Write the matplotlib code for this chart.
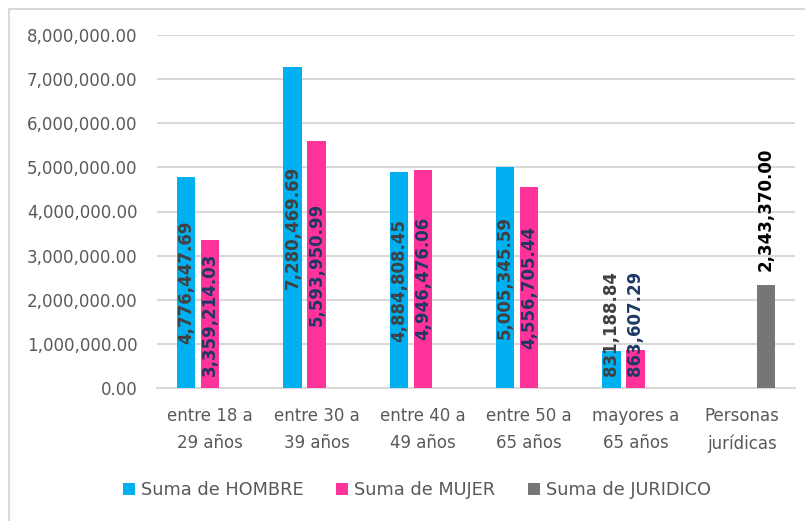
import matplotlib
matplotlib.use("Agg")
import matplotlib.pyplot as plt
import numpy as np
from matplotlib.patches import Rectangle
from matplotlib.ticker import FuncFormatter, MultipleLocator

plt.rcParams["font.family"] = ["DejaVu Sans"]

categories = ["entre 18 a\n29 años", "entre 30 a\n39 años", "entre 40 a\n49 años",
              "entre 50 a\n65 años", "mayores a\n65 años", "Personas\njurídicas"]
hombre = [4776447.69, 7280469.69, 4884808.45, 5005345.59, 831188.84, None]
mujer = [3359214.03, 5593950.99, 4946476.06, 4556705.44, 863607.29, None]
juridico = [None, None, None, None, None, 2343370.00]
series_names = ["Suma de HOMBRE", "Suma de MUJER", "Suma de JURIDICO"]
colors = ["#00B0F0", "#FF3399", "#767676"]
label_colors = ["#404040", "#1F3864", "#000000"]

W, H = 805, 521
fig = plt.figure(figsize=(W / 100, H / 100), dpi=100)
ax = fig.add_axes([157 / W, 1 - 388 / H, (795 - 157) / W, (388 - 35) / H])

x = np.arange(len(categories))
bw = 0.17
offs = [-0.226, 0.0, 0.226]
all_series = [hombre, mujer, juridico]

for si, (vals, off) in enumerate(zip(all_series, offs)):
    xs = [xi + off for xi, v in zip(x, vals) if v is not None]
    vs = [v for v in vals if v is not None]
    ax.bar(xs, vs, width=bw, color=colors[si], label=series_names[si], zorder=3)
    for xi, v in zip(xs, vs):
        txt = f"{v:,.2f}"
        if si == 2:
            ax.annotate(txt, (xi, v), xytext=(0, 10), textcoords="offset points",
                        rotation=90, ha="center", va="bottom", fontsize=12,
                        fontweight="bold", color=label_colors[si], zorder=4)
        elif v < 1500000:
            ax.annotate(txt, (xi, 0), xytext=(0, 9), textcoords="offset points",
                        rotation=90, ha="center", va="bottom", fontsize=12,
                        fontweight="bold", color=label_colors[si], zorder=4)
        else:
            ax.text(xi, v / 2, txt, rotation=90, ha="center", va="center",
                    fontsize=12, fontweight="bold", color=label_colors[si], zorder=4)

ax.set_xlim(-0.5, len(categories) - 0.5)
ax.set_ylim(0, 8000000)
ax.yaxis.set_major_locator(MultipleLocator(1000000))
ax.yaxis.set_major_formatter(FuncFormatter(lambda v, p: f"{v:,.2f}"))
ax.grid(axis="y", color="#D9D9D9", linewidth=1.5, zorder=0)
ax.set_axisbelow(True)
for s in ["top", "right", "left"]:
    ax.spines[s].set_visible(False)
ax.spines["bottom"].set_color("#D9D9D9")
ax.spines["bottom"].set_linewidth(1.5)
ax.set_xticks(x)
ax.set_xticklabels(categories, linespacing=1.6)
ax.tick_params(axis="both", length=0, labelsize=12, labelcolor="#595959")
ax.tick_params(axis="x", pad=14)
ax.tick_params(axis="y", pad=14)

leg = fig.legend(loc="center", bbox_to_anchor=(417 / W, 1 - 490 / H), ncol=3,
                 frameon=False, fontsize=12.8, handlelength=0.65, handleheight=0.65,
                 handletextpad=0.35, columnspacing=1.85)
for t in leg.get_texts():
    t.set_color("#595959")

fig.patches.append(Rectangle((9 / W, -0.1), 1.2, 1 - 9 / H + 0.1, transform=fig.transFigure,
                             fill=False, edgecolor="#D9D9D9", linewidth=1.5, zorder=0))

fig.savefig("out.png", dpi=100, facecolor="white")
